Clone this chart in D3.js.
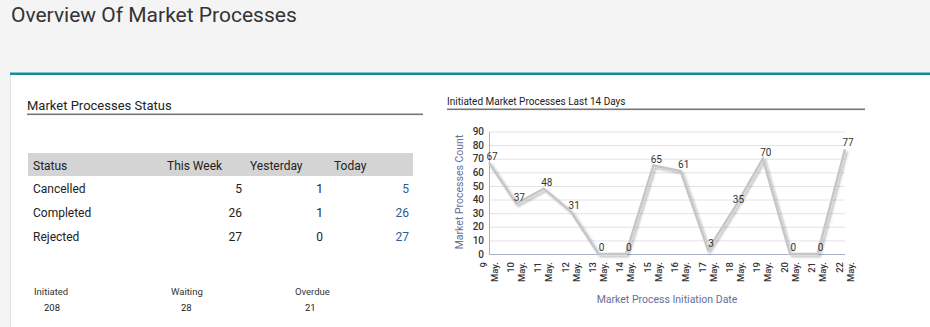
<!DOCTYPE html>
<html><head><meta charset="utf-8">
<script src="https://cdn.jsdelivr.net/npm/d3@7"></script>
<style>
html,body{margin:0;padding:0;background:#f4f4f4;}
svg{display:block;font-family:Roboto, "Open Sans", sans-serif;}
</style></head>
<body>
<svg id="c" width="930" height="327"></svg>
<script>
const days = ["9","10","11","12","13","14","15","16","17","18","19","20","21","22"];
const month = "May.";
const counts = [67,37,48,31,0,0,65,61,3,35,70,0,0,77];
const yTicks = [0,10,20,30,40,50,60,70,80,90];
const statusRows = ["Cancelled","Completed","Rejected"];
const thisWeek = [5,26,27];
const yesterday = [1,1,0];
const today = [5,26,27];
const tableHeaders = ["Status","This Week","Yesterday","Today"];
const summaryLabels = ["Initiated","Waiting","Overdue"];
const summaryValues = [208,28,21];

const svg = d3.select("#c");
svg.append("rect").attr("x",0).attr("y",0).attr("width",930).attr("height",327).attr("fill","#f4f4f4");
svg.append("text").attr("x",11).attr("y",22).attr("font-size",21).attr("fill","#333").text("Overview Of Market Processes");
svg.append("rect").attr("x",10).attr("y",75).attr("width",920).attr("height",252).attr("fill","#fff");
svg.append("line").attr("x1",10.5).attr("x2",10.5).attr("y1",75).attr("y2",327).attr("stroke","#dfe3ea");
svg.append("rect").attr("x",10).attr("y",72.5).attr("width",920).attr("height",2.5).attr("fill","#16899b");

// Left section
svg.append("text").attr("x",27).attr("y",110).attr("font-size",13).attr("fill","#222").text("Market Processes Status");
svg.append("rect").attr("x",27).attr("y",113.5).attr("width",396).attr("height",1.6).attr("fill","#777");

svg.append("rect").attr("x",28).attr("y",153).attr("width",385).attr("height",23).attr("fill","#d4d4d4");
const hx = [33,167,250,334];
tableHeaders.forEach((h,i)=>svg.append("text").attr("x",hx[i]).attr("y",170).attr("font-size",12).attr("fill","#222").text(h));
const rowY = d3.scaleBand().domain(statusRows).range([177,249]);
statusRows.forEach((r,i)=>{
  const y = rowY(r)+16;
  svg.append("text").attr("x",33).attr("y",y).attr("font-size",12).attr("fill","#222").text(r);
  svg.append("text").attr("x",242).attr("y",y).attr("text-anchor","end").attr("font-size",12).attr("fill","#222").text(thisWeek[i]);
  svg.append("text").attr("x",323).attr("y",y).attr("text-anchor","end").attr("font-size",12).attr("fill","#222").text(yesterday[i]);
  svg.append("text").attr("x",409).attr("y",y).attr("text-anchor","end").attr("font-size",12).attr("fill","#2b5d96").text(today[i]);
});
const sx = [34,171,295];
summaryLabels.forEach((l,i)=>{
  svg.append("text").attr("x",sx[i]).attr("y",295).attr("font-size",9.5).attr("fill","#333").text(l);
  svg.append("text").attr("x",sx[i]+10).attr("y",311).attr("font-size",9.5).attr("fill","#222").text(summaryValues[i]);
});

// Right chart
svg.append("text").attr("x",447).attr("y",105).attr("font-size",10).attr("fill","#222").text("Initiated Market Processes Last 14 Days");
svg.append("rect").attr("x",447).attr("y",108.5).attr("width",418).attr("height",1.6).attr("fill","#777");

const x = d3.scalePoint().domain(days).range([489,845]);
const y = d3.scaleLinear().domain([0,90]).range([254,131.5]);

const defs = svg.append("defs");
const f = defs.append("filter").attr("id","sh").attr("x","-10%").attr("y","-10%").attr("width","130%").attr("height","130%");
f.append("feDropShadow").attr("dx",2).attr("dy",2).attr("stdDeviation",1.2).attr("flood-color","#000").attr("flood-opacity",0.25);

svg.append("g").selectAll("line").data(yTicks.filter(d=>d>0)).join("line")
  .attr("x1",489).attr("x2",845).attr("y1",d=>y(d)+0.5).attr("y2",d=>y(d)+0.5)
  .attr("stroke","#e2e2ec").attr("stroke-width",1);

const yAxis = svg.append("g").attr("transform","translate(489,0)")
  .call(d3.axisLeft(y).tickValues(yTicks).tickSize(0).tickPadding(5));
yAxis.select(".domain").attr("stroke","#a9b0cc");
yAxis.selectAll("text").attr("font-size",10).attr("font-weight",500).attr("fill","#333").attr("font-family","Roboto, sans-serif");

const xAxis = svg.append("g").attr("transform","translate(0,254)")
  .call(d3.axisBottom(x).tickSize(0).tickFormat(""));
xAxis.select(".domain").attr("stroke","#a9b0cc").attr("d","M489,0.5H845");
xAxis.selectAll(".tick").each(function(d){
  const t = d3.select(this).append("text").attr("transform","rotate(-90)").attr("text-anchor","end")
    .attr("font-size",9.5).attr("font-weight",500).attr("fill","#333").attr("font-family","Roboto, sans-serif");
  t.append("tspan").attr("x",-8).attr("y",-3).text(d);
  t.append("tspan").attr("x",-8).attr("y",8).text(month);
});

const line = d3.line().x((d,i)=>x(days[i])).y(d=>y(d));
svg.append("path").datum(counts).attr("d",line).attr("fill","none")
  .attr("stroke","#c6c6c6").attr("stroke-width",2.5).attr("stroke-linejoin","miter").attr("filter","url(#sh)");

svg.append("g").selectAll("text").data(counts).join("text")
  .attr("x",(d,i)=>x(days[i])+3).attr("y",d=>y(d)-3).attr("text-anchor","middle")
  .attr("font-size",10).attr("fill","#333").text(d=>d);

svg.append("text").attr("x",667).attr("y",303).attr("text-anchor","middle").attr("font-size",10.5)
  .attr("fill","#6a6e96").text("Market Process Initiation Date");
svg.append("text").attr("transform","translate(463,192) rotate(-90)").attr("text-anchor","middle").attr("font-size",10.5)
  .attr("fill","#6a6e96").text("Market Processes Count");
</script>
</body></html>
